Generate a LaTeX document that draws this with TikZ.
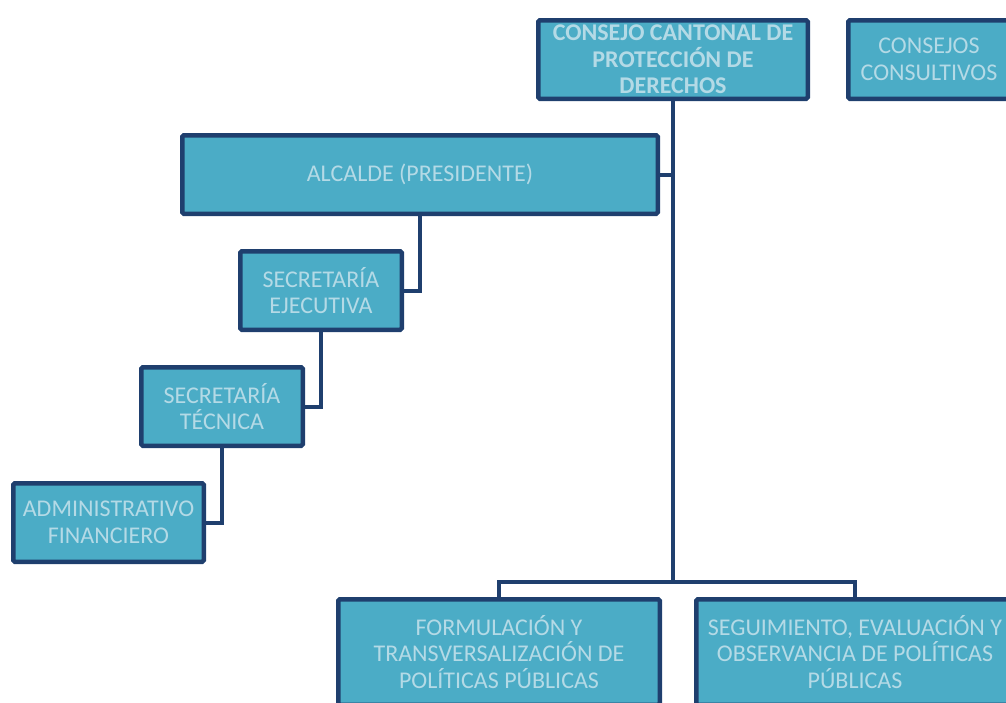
\documentclass[tikz,border=0pt]{standalone}
\usepackage{fontspec}
\setmainfont{Carlito}
\definecolor{boxfill}{HTML}{4BACC6}
\definecolor{boxline}{HTML}{1F3F6E}
\definecolor{boxtext}{HTML}{B4DAE6}
\tikzset{
  orgbox/.style={draw=boxline, line width=4.5pt, fill=boxfill, text=boxtext,
    font=\fontsize{24}{26.5}\selectfont, align=center, inner sep=0pt,
    rounded corners=1.5pt, minimum height=78.5pt},
  link/.style={draw=boxline, line width=4pt}
}
\begin{document}
\begin{tikzpicture}[x=1pt,y=-1pt]
  \useasboundingbox (0,0) rectangle (1006,702);
  \clip (0,0) rectangle (1006,702);

  % top level
  \node[orgbox, minimum width=269.5pt, font=\fontsize{24}{26.5}\selectfont\bfseries] (consejo) at (673,59.5)
    {CONSEJO CANTONAL DE\\PROTECCIÓN DE\\DERECHOS};
  \node[orgbox, minimum width=161.5pt] (consultivos) at (929,59.5) {CONSEJOS\\CONSULTIVOS};

  % left chain
  \node[orgbox, minimum width=475.5pt] (alcalde) at (420,174.5) {ALCALDE (PRESIDENTE)};
  \node[orgbox, minimum width=161.5pt] (secejec) at (321,290.5) {SECRETARÍA\\EJECUTIVA};
  \node[orgbox, minimum width=161.5pt] (sectec) at (222,406.5) {SECRETARÍA\\TÉCNICA};
  \node[orgbox, minimum width=190.5pt] (admin) at (108.5,522.5) {ADMINISTRATIVO\\FINANCIERO};

  % bottom level
  \node[orgbox, minimum width=321.5pt, minimum height=105.5pt] (formul) at (499,652)
    {FORMULACIÓN Y\\TRANSVERSALIZACIÓN DE\\POLÍTICAS PÚBLICAS};
  \node[orgbox, minimum width=317.5pt, minimum height=105.5pt] (seguim) at (855,652)
    {SEGUIMIENTO, EVALUACIÓN Y\\OBSERVANCIA DE POLÍTICAS\\PÚBLICAS};

  % connectors
  \coordinate (bar) at (673,582);
  \draw[link] (consejo.south) -- (bar);
  \draw[link] (formul.north) |- (bar) -| (seguim.north);
  \draw[link] (alcalde.east) -- (alcalde.east -| consejo.south);
  \draw[link] (alcalde.south) |- (secejec.east);
  \draw[link] (secejec.south) |- (sectec.east);
  \draw[link] (sectec.south) |- (admin.east);
\end{tikzpicture}
\end{document}
